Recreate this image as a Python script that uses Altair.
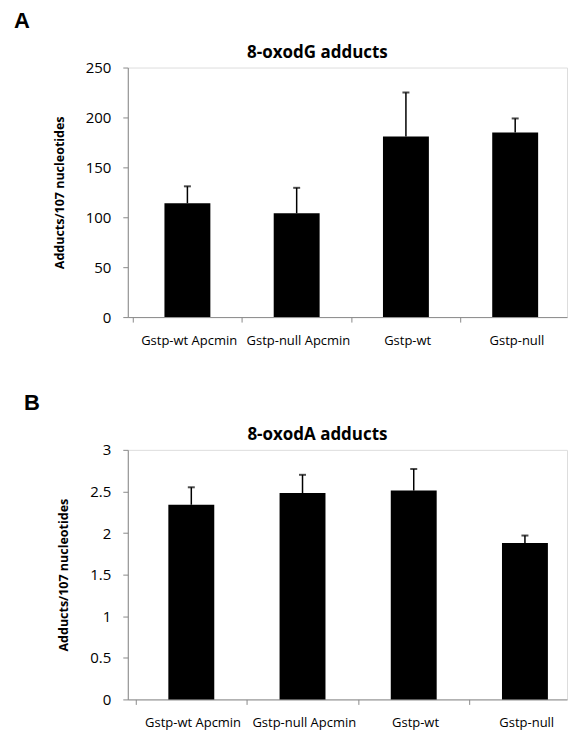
import json
import altair as alt
import pandas as pd

categories = ["Gstp-wt Apcmin", "Gstp-null Apcmin", "Gstp-wt", "Gstp-null"]
positions = [0.5, 1.5, 2.5, 3.5]

oxodg_values = [114, 104, 181, 185]
oxodg_errors = [17, 25.5, 44, 14]

oxoda_values = [2.34, 2.48, 2.51, 1.88]
oxoda_errors = [0.21, 0.22, 0.26, 0.09]

FONT = "Open Sans"
PLOT_W = 440
PLOT_H = 250
AXIS_GRAY = "#8a8a8a"


def panel(values, errors, title, letter, y_max, y_step, y_fmt, step_px, x_shift, letter_dx):
    df = pd.DataFrame({
        "pos": positions,
        "cat": categories,
        "value": values,
        "top": [v + e for v, e in zip(values, errors)],
    })
    x_min = -x_shift / step_px
    x_max = x_min + PLOT_W / step_px
    label_expr = json.dumps(categories) + "[datum.value]"
    x = alt.X(
        "pos:Q",
        scale=alt.Scale(domain=[x_min, x_max], nice=False, zero=False),
        axis=alt.Axis(
            title=None,
            values=[0, 1, 2, 3],
            labelExpr=label_expr,
            labelOffset=step_px / 2,
            labelFlush=False,
            labelOverlap=False,
            labelBound=False,
            labelFont=FONT,
            labelFontSize=13,
            labelColor="black",
            labelPadding=12,
            tickSize=5,
            tickColor=AXIS_GRAY,
            domainColor=AXIS_GRAY,
            grid=False,
        ),
    )
    y_vals = []
    v = 0.0
    while v <= y_max + 1e-9:
        y_vals.append(round(v, 3))
        v += y_step
    y = alt.Y(
        "value:Q",
        scale=alt.Scale(domain=[0, y_max], nice=False),
        axis=alt.Axis(
            title="Adducts/107 nucleotides",
            titleFont=FONT,
            titleFontSize=12.5,
            titleFontWeight="bold",
            titleColor="black",
            titlePadding=19,
            values=y_vals,
            format=y_fmt,
            labelFont=FONT,
            labelFontSize=15,
            labelColor="black",
            labelPadding=12,
            tickSize=5,
            tickColor=AXIS_GRAY,
            domainColor=AXIS_GRAY,
            grid=False,
        ),
    )
    base = alt.Chart(df)
    bars = base.mark_bar(color="black", size=46).encode(x=x, y=y)
    err = base.mark_rule(color="black", strokeWidth=1.5).encode(
        x="pos:Q", y="value:Q", y2="top:Q"
    )
    caps = base.mark_tick(color="black", orient="horizontal", size=7, thickness=2).encode(
        x="pos:Q", y="top:Q"
    )
    txt = pd.DataFrame({"t": [letter]})
    lab = alt.Chart(txt).mark_text(
        font="Liberation Sans", fontSize=22, fontWeight="bold", align="left",
        baseline="middle", color="black",
    ).encode(text="t:N", x=alt.value(letter_dx), y=alt.value(-47))
    ttl = alt.Chart(pd.DataFrame({"t": [title]})).mark_text(
        font=FONT, fontSize=17, fontWeight="bold", align="center",
        baseline="middle", color="black",
    ).encode(text="t:N", x=alt.value(190), y=alt.value(-15))
    return alt.layer(bars, err, caps, lab, ttl).properties(
        width=PLOT_W,
        height=PLOT_H,
    )


panel_a = panel(oxodg_values, oxodg_errors, "8-oxodG adducts", "A", 250, 50, "d", 112, 0, -114)
panel_b = panel(oxoda_values, oxoda_errors, "8-oxodA adducts", "B", 3, 0.5, ".1~f", 114, 3, -104)

chart = alt.vconcat(panel_a, panel_b, spacing=43).resolve_scale(
    x="independent", y="independent"
).properties(
    padding={"left": 5, "top": 0, "right": 0, "bottom": 0}
).configure_view(stroke=None).configure(background="white")

chart.save("out.html", embed_options={"renderer": "svg", "actions": False})
